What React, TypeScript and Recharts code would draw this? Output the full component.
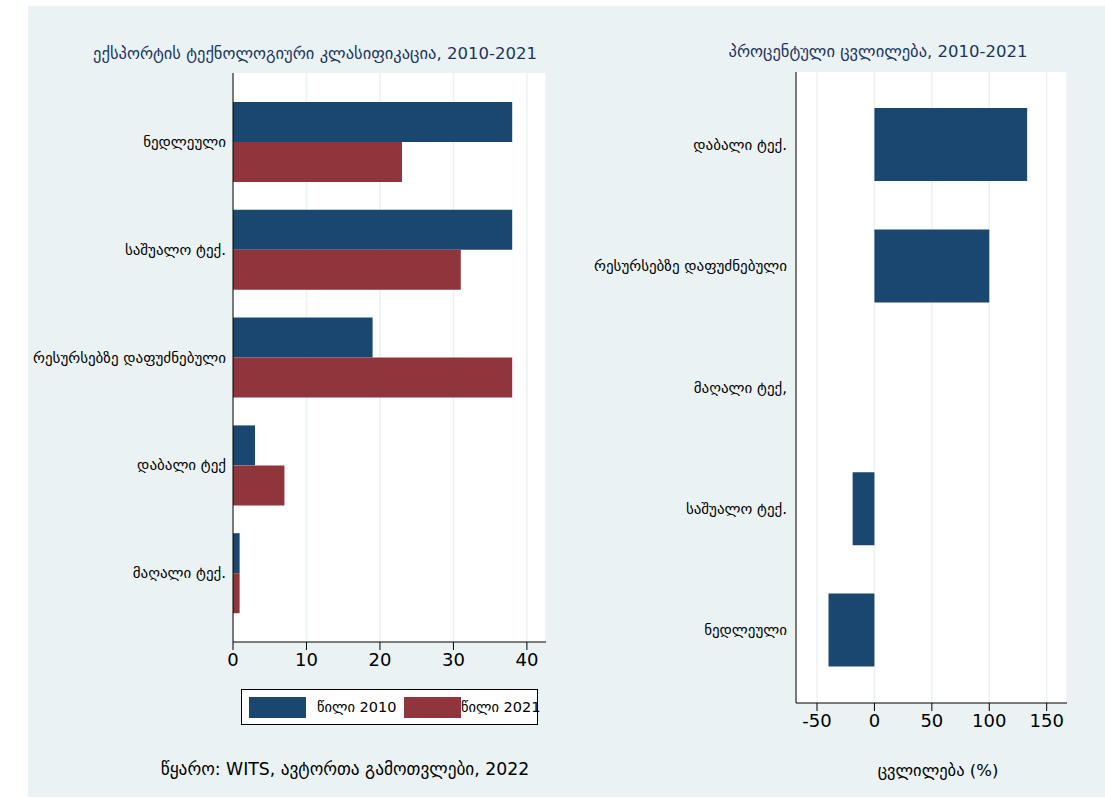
import React from 'react';
import { BarChart, Bar, XAxis, YAxis, CartesianGrid } from 'recharts';

const categoriesLeft = ['ნედლეული', 'საშუალო ტექ.', 'რესურსებზე დაფუძნებული', 'დაბალი ტექ', 'მაღალი ტექ.'];
const share2010 = [38, 38, 19, 3, 0.9];
const share2021 = [23, 31, 38, 7, 0.9];
const leftTicks = [0, 10, 20, 30, 40];

const categoriesRight = ['დაბალი ტექ.', 'რესურსებზე დაფუძნებული', 'მაღალი ტექ,', 'საშუალო ტექ.', 'ნედლეული'];
const pctChange = [133, 100, 0, -19, -40];
const rightTicks = [-50, 0, 50, 100, 150];

const seriesNames = ['წილი 2010', 'წილი 2021'];

const leftData = categoriesLeft.map((name, i) => ({ name, s2010: share2010[i], s2021: share2021[i] }));
const rightData = categoriesRight.map((name, i) => ({ name, change: pctChange[i] }));

const BLUE = '#1a476f';
const RED = '#90353b';
const BG = '#eaf2f3';
const FONT = '"DejaVu Sans", "Liberation Sans", sans-serif';
const TITLE = '#1c3560';

const CatTick = (props: any) => {
  const { x, y, payload } = props;
  return (
    <text x={x} y={y} dy={5} textAnchor="end" fontFamily={FONT} fontSize={15} fill="#000">
      {payload.value}
    </text>
  );
};

const tickStyle = { fontFamily: FONT, fontSize: 18, fill: '#000' };

export default function App() {
  return (
    <div style={{ position: 'absolute', left: 0, top: 0, width: 1105, height: 798, background: '#fff', fontFamily: FONT }}>
      <div style={{ position: 'absolute', left: 28, top: 6, width: 1077, height: 791, background: BG }} />

      <div style={{ position: 'absolute', left: 15, top: 44, width: 600, textAlign: 'center', fontSize: 16.5, color: TITLE, whiteSpace: 'nowrap' }}>
        ექსპორტის ტექნოლოგიური კლასიფიკაცია, 2010-2021
      </div>
      <div style={{ position: 'absolute', left: 678, top: 42, width: 400, textAlign: 'center', fontSize: 16.5, color: TITLE, whiteSpace: 'nowrap' }}>
        პროცენტული ცვლილება, 2010-2021
      </div>

      <div style={{ position: 'absolute', left: 0, top: 0 }}>
        <BarChart
          width={560}
          height={700}
          data={leftData}
          layout="vertical"
          margin={{ top: 73, right: 14, bottom: 18, left: 8 }}
          barGap={0}
        >
          <CartesianGrid horizontal={false} vertical={true} stroke={BG} strokeWidth={1.5} fill="#fff" />
          <XAxis
            type="number"
            domain={[0, 42.6]}
            ticks={leftTicks}
            allowDataOverflow
            height={40}
            tick={tickStyle}
            tickSize={8}
            tickMargin={3}
            stroke="#000"
            axisLine={{ stroke: '#000' }}
            tickLine={{ stroke: '#000' }}
          />
          <YAxis
            type="category"
            dataKey="name"
            width={225}
            padding={{ top: 15, bottom: 15 }}
            tick={<CatTick />}
            tickLine={false}
            tickSize={0}
            tickMargin={7}
            axisLine={{ stroke: '#000' }}
            interval={0}
          />
          <Bar dataKey="s2010" fill={BLUE} barSize={40} isAnimationActive={false} name={seriesNames[0]} />
          <Bar dataKey="s2021" fill={RED} barSize={40} isAnimationActive={false} name={seriesNames[1]} />
        </BarChart>
      </div>

      <div style={{ position: 'absolute', left: 241, top: 689, width: 297, height: 36, border: '1px solid #000', background: '#fff', boxSizing: 'border-box' }}>
        <div style={{ position: 'absolute', left: 7, top: 7, width: 57, height: 21, background: BLUE }} />
        <div style={{ position: 'absolute', left: 75, top: 7, lineHeight: '21px', fontSize: 14.5, color: '#000', whiteSpace: 'nowrap' }}>{seriesNames[0]}</div>
        <div style={{ position: 'absolute', left: 162, top: 7, width: 57, height: 21, background: RED }} />
        <div style={{ position: 'absolute', left: 219, top: 7, lineHeight: '21px', fontSize: 14.5, color: '#000', whiteSpace: 'nowrap' }}>{seriesNames[1]}</div>
      </div>

      <div style={{ position: 'absolute', left: 155, top: 759, width: 380, textAlign: 'center', fontSize: 17.3, color: '#000', whiteSpace: 'nowrap' }}>
        წყარო: WITS, ავტორთა გამოთვლები, 2022
      </div>

      <div style={{ position: 'absolute', left: 560, top: 0 }}>
        <BarChart
          width={545}
          height={798}
          data={rightData}
          layout="vertical"
          margin={{ top: 72, right: 38, bottom: 55, left: 8 }}
        >
          <CartesianGrid horizontal={false} vertical={true} stroke={BG} strokeWidth={1.5} fill="#fff" />
          <XAxis
            type="number"
            domain={[-68.3, 167.7]}
            ticks={rightTicks}
            allowDataOverflow
            height={40}
            tick={tickStyle}
            tickSize={8}
            tickMargin={3}
            stroke="#000"
            axisLine={{ stroke: '#000' }}
            tickLine={{ stroke: '#000' }}
          />
          <YAxis
            type="category"
            dataKey="name"
            width={228}
            padding={{ top: 12, bottom: 12 }}
            tick={<CatTick />}
            tickLine={false}
            tickSize={0}
            tickMargin={9}
            axisLine={{ stroke: '#000' }}
            interval={0}
          />
          <Bar dataKey="change" fill={BLUE} barSize={73} isAnimationActive={false} />
        </BarChart>
      </div>

      <div style={{ position: 'absolute', left: 828, top: 761, width: 220, textAlign: 'center', fontSize: 16.5, color: '#000', whiteSpace: 'nowrap' }}>
        ცვლილება (%)
      </div>
    </div>
  );
}
